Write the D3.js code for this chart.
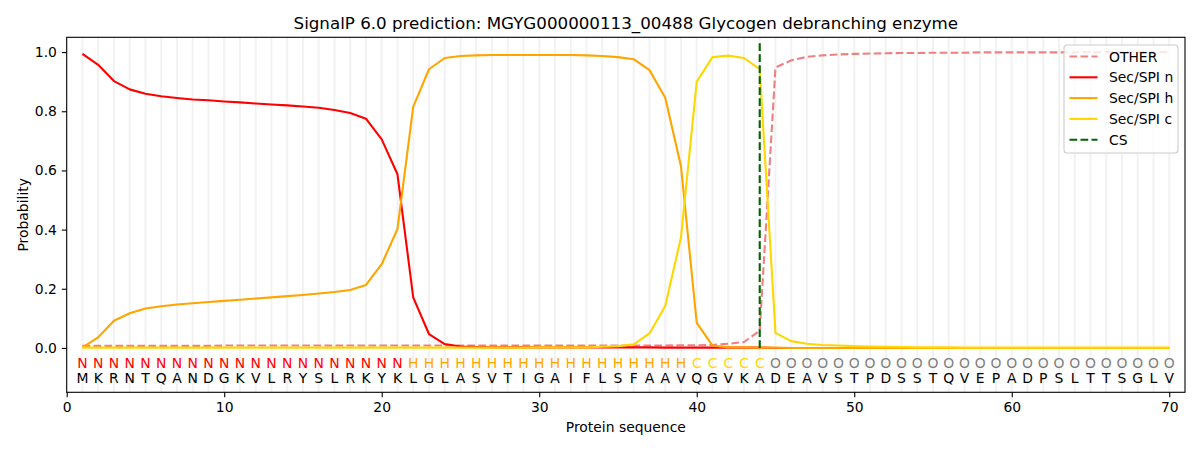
<!DOCTYPE html>
<html>
<head>
<meta charset="utf-8">
<script src="https://cdn.jsdelivr.net/npm/d3@7"></script>
<style>
  body { margin: 0; background: #fff; }
  svg { font-family: "DejaVu Sans", sans-serif; }
</style>
</head>
<body>
<div id="chart"></div>
<script>
// values, one per residue (1..70)
var positions = d3.range(1, 71)
var sequence = "MKRNTQANDGKVLRYSLRKYKLGLASVTIGAIFLSFAAVQGVKADEAVSTPDSSTQVEPADPSLTTSGLV".split("")
var regionLabels = "NNNNNNNNNNNNNNNNNNNNNHHHHHHHHHHHHHHHHHHCCCCCOOOOOOOOOOOOOOOOOOOOOOOOOO".split("")

var other = [0.007, 0.007, 0.007, 0.007, 0.007, 0.007, 0.007, 0.007, 0.007, 0.008,
             0.008, 0.008, 0.008, 0.008, 0.008, 0.008, 0.008, 0.008, 0.008, 0.008,
             0.008, 0.008, 0.008, 0.008, 0.008, 0.008, 0.008, 0.008, 0.008, 0.008,
             0.008, 0.008, 0.008, 0.008, 0.008, 0.008, 0.008, 0.008, 0.009, 0.009,
             0.010, 0.014, 0.020, 0.058, 0.948, 0.972, 0.984, 0.989, 0.992, 0.994,
             0.995, 0.996, 0.997, 0.997, 0.998, 0.998, 0.998, 0.999, 0.999, 0.999,
             0.999, 0.999, 0.999, 0.999, 1.000, 1.000, 1.000, 1.000, 1.000, 1.000]

var secN = [0.994, 0.957, 0.902, 0.874, 0.859, 0.851, 0.845, 0.840, 0.837, 0.833,
            0.830, 0.826, 0.823, 0.820, 0.816, 0.812, 0.804, 0.794, 0.775, 0.705,
            0.587, 0.171, 0.047, 0.013, 0.005, 0.003, 0.002, 0.002, 0.002, 0.002,
            0.002, 0.002, 0.002, 0.002, 0.002, 0.002, 0.002, 0.001, 0.001, 0.001,
            0.001, 0.001, 0.001, 0.001, 0.000, 0.000, 0.000, 0.000, 0.000, 0.000,
            0.000, 0.000, 0.000, 0.000, 0.000, 0.000, 0.000, 0.000, 0.000, 0.000,
            0.000, 0.000, 0.000, 0.000, 0.000, 0.000, 0.000, 0.000, 0.000, 0.000]

var secH = [0.002, 0.036, 0.092, 0.117, 0.133, 0.141, 0.147, 0.151, 0.155, 0.159,
            0.163, 0.167, 0.171, 0.175, 0.179, 0.184, 0.189, 0.196, 0.213, 0.283,
            0.402, 0.815, 0.942, 0.980, 0.987, 0.989, 0.990, 0.990, 0.990, 0.990,
            0.990, 0.990, 0.989, 0.987, 0.983, 0.976, 0.939, 0.846, 0.614, 0.085,
            0.008, 0.002, 0.002, 0.001, 0.001, 0.000, 0.000, 0.000, 0.000, 0.000,
            0.000, 0.000, 0.000, 0.000, 0.000, 0.000, 0.000, 0.000, 0.000, 0.000,
            0.000, 0.000, 0.000, 0.000, 0.000, 0.000, 0.000, 0.000, 0.000, 0.000]

var secC = [0.001, 0.001, 0.001, 0.001, 0.001, 0.001, 0.001, 0.001, 0.001, 0.001,
            0.001, 0.001, 0.001, 0.001, 0.001, 0.001, 0.001, 0.001, 0.001, 0.001,
            0.001, 0.001, 0.001, 0.001, 0.001, 0.001, 0.001, 0.001, 0.001, 0.002,
            0.002, 0.002, 0.002, 0.004, 0.006, 0.012, 0.049, 0.142, 0.374, 0.900,
            0.983, 0.988, 0.980, 0.942, 0.051, 0.023, 0.014, 0.010, 0.008, 0.006,
            0.005, 0.004, 0.003, 0.002, 0.002, 0.002, 0.001, 0.001, 0.001, 0.001,
            0.001, 0.001, 0.001, 0.001, 0.001, 0.001, 0.001, 0.001, 0.001, 0.001]

var cleavageSite = 44
var xTicks = [0, 10, 20, 30, 40, 50, 60, 70]
var yTicks = [0.0, 0.2, 0.4, 0.6, 0.8, 1.0]

var w = 1200
var h = 450
// axes box in pixels, same as the matplotlib figure
var axLeft = 66.7, axRight = 1185, axTop = 37.3, axBottom = 392.3

var x = d3.scaleLinear().domain([0, 71]).range([axLeft, axRight])
var y = d3.scaleLinear().domain([-0.15, 1.05]).range([axBottom, axTop])

var svg = d3.select("#chart").append("svg")
    .attr("width", w)
    .attr("height", h)

//light vertical line at every residue
svg.append("g").selectAll("line")
    .data(positions)
    .enter()
    .append("line")
    .attr("x1", function (d) { return x(d) })
    .attr("x2", function (d) { return x(d) })
    .attr("y1", axTop)
    .attr("y2", axBottom)
    .attr("stroke", "#d3d3d3")
    .attr("stroke-opacity", 0.3)
    .attr("stroke-width", 2)

var series = [
    {name: "OTHER", values: other, color: "#f08080", dash: "7.7,3.3"},
    {name: "Sec/SPI n", values: secN, color: "#ff0000", dash: null},
    {name: "Sec/SPI h", values: secH, color: "#ffa500", dash: null},
    {name: "Sec/SPI c", values: secC, color: "#ffd700", dash: null}
]

var line = d3.line()
    .x(function (d, i) { return x(positions[i]) })
    .y(function (d) { return y(d) })

svg.append("g").selectAll("path")
    .data(series)
    .enter()
    .append("path")
    .attr("d", function (d) { return line(d.values) })
    .attr("fill", "none")
    .attr("stroke", function (d) { return d.color })
    .attr("stroke-width", 2.1)
    .attr("stroke-dasharray", function (d) { return d.dash })
    .attr("stroke-linejoin", "round")

//cleavage site
svg.append("line")
    .attr("x1", x(cleavageSite))
    .attr("x2", x(cleavageSite))
    .attr("y1", y(0))
    .attr("y2", y(1.036))
    .attr("stroke", "#006400")
    .attr("stroke-width", 2.1)
    .attr("stroke-dasharray", "7.7,3.3")

var labelColor = {N: "#ff0000", H: "#ffa500", C: "#ffd700", O: "#808080"}

svg.append("g").selectAll("text")
    .data(regionLabels)
    .enter()
    .append("text")
    .attr("x", function (d, i) { return x(positions[i]) })
    .attr("y", y(-0.05))
    .attr("dy", "0.36em")
    .attr("text-anchor", "middle")
    .attr("font-size", "13.9px")
    .attr("fill", function (d) { return labelColor[d] })
    .text(function (d) { return d })

svg.append("g").selectAll("text")
    .data(sequence)
    .enter()
    .append("text")
    .attr("x", function (d, i) { return x(positions[i]) })
    .attr("y", y(-0.1))
    .attr("dy", "0.36em")
    .attr("text-anchor", "middle")
    .attr("font-size", "13.9px")
    .attr("fill", "#000")
    .text(function (d) { return d })

//axes
svg.append("g")
    .attr("transform", "translate(0," + axBottom + ")")
    .call(d3.axisBottom(x).tickValues(xTicks).tickFormat(d3.format("d")).tickSize(4.9).tickPadding(4.9))
svg.append("g")
    .attr("transform", "translate(" + axLeft + ",0)")
    .call(d3.axisLeft(y).tickValues(yTicks).tickFormat(d3.format(".1f")).tickSize(4.9).tickPadding(4.9))

svg.selectAll(".domain").remove()
svg.selectAll(".tick line").attr("stroke", "#000").attr("stroke-width", 1.1)
svg.selectAll(".tick text")
    .attr("font-family", "DejaVu Sans")
    .attr("font-size", "13.9px")
    .attr("fill", "#000")

svg.append("rect")
    .attr("x", axLeft)
    .attr("y", axTop)
    .attr("width", axRight - axLeft)
    .attr("height", axBottom - axTop)
    .attr("fill", "none")
    .attr("stroke", "#000")
    .attr("stroke-width", 1.1)

svg.append("text")
    .attr("x", (axLeft + axRight) / 2)
    .attr("y", 28.5)
    .attr("text-anchor", "middle")
    .attr("font-size", "16.7px")
    .text("SignalP 6.0 prediction: MGYG000000113_00488 Glycogen debranching enzyme")

svg.append("text")
    .attr("x", (axLeft + axRight) / 2)
    .attr("y", 432)
    .attr("text-anchor", "middle")
    .attr("font-size", "13.9px")
    .text("Protein sequence")

svg.append("text")
    .attr("transform", "translate(23," + ((axTop + axBottom) / 2) + ") rotate(-90)")
    .attr("dy", "0.35em")
    .attr("text-anchor", "middle")
    .attr("font-size", "13.9px")
    .text("Probability")

//legend, upper right
var legendItems = series.concat([{name: "CS", color: "#006400", dash: "7.7,3.3"}])
var legend = svg.append("g").attr("transform", "translate(1064,45)")
legend.append("rect")
    .attr("width", 114)
    .attr("height", 108)
    .attr("rx", 3)
    .attr("fill", "#fff")
    .attr("fill-opacity", 0.8)
    .attr("stroke", "#cccccc")
    .attr("stroke-width", 1.1)

var rows = legend.selectAll("g.row")
    .data(legendItems)
    .enter()
    .append("g")
    .attr("class", "row")
    .attr("transform", function (d, i) { return "translate(0," + (11.5 + i * 20.8) + ")" })
rows.append("line")
    .attr("x1", 5.5)
    .attr("x2", 33.5)
    .attr("stroke", function (d) { return d.color })
    .attr("stroke-width", 2.1)
    .attr("stroke-dasharray", function (d) { return d.dash })
rows.append("text")
    .attr("x", 45)
    .attr("dy", "0.36em")
    .attr("font-size", "13.9px")
    .text(function (d) { return d.name })
</script>
</body>
</html>
